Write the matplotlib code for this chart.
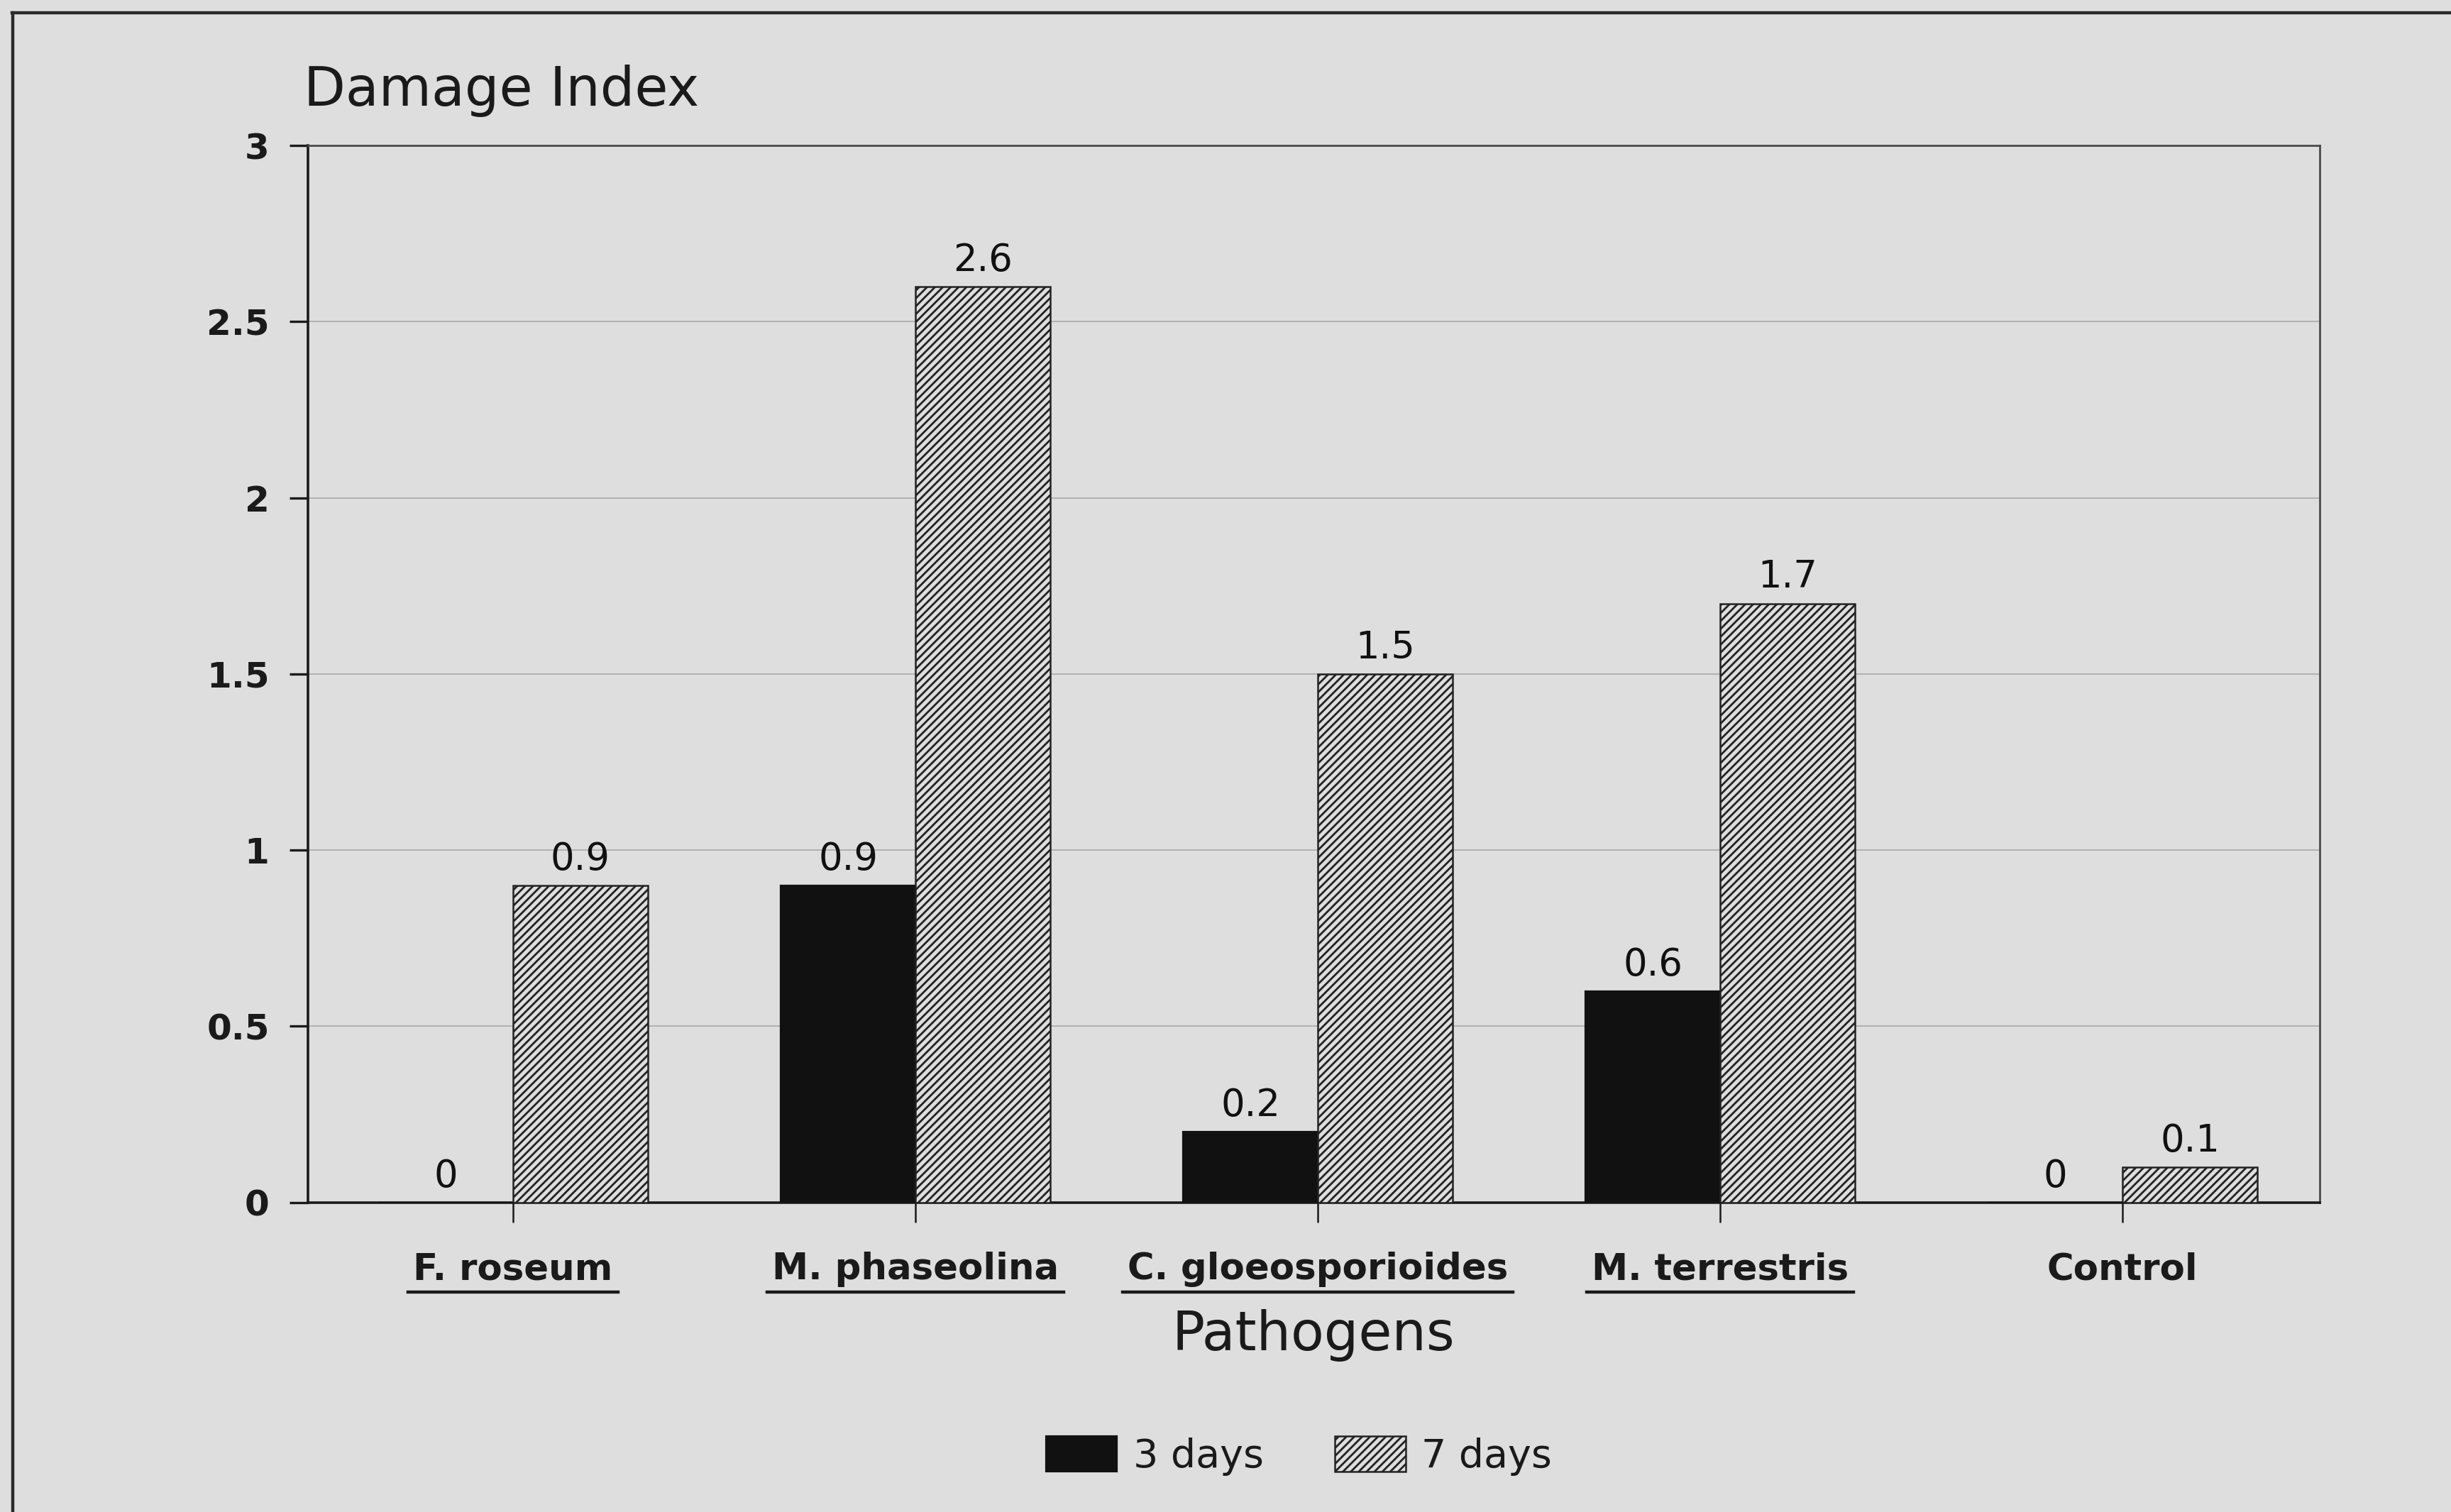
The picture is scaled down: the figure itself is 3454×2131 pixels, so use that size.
import matplotlib
matplotlib.use("Agg")
import matplotlib.pyplot as plt
from matplotlib.lines import Line2D
import numpy as np

# data
pathogens = ["F. roseum", "M. phaseolina", "C. gloeosporioides", "M. terrestris", "Control"]
underlined = [True, True, True, True, False]
days3 = [0, 0.9, 0.2, 0.6, 0]
days7 = [0.9, 2.6, 1.5, 1.7, 0.1]
yticks = [0, 0.5, 1, 1.5, 2, 2.5, 3]
ytick_labels = ["0", "0.5", "1", "1.5", "2", "2.5", "3"]

BG = "#dedede"
INK = "#1a1a1a"

plt.rcParams["font.family"] = ["DejaVu Sans"]
plt.rcParams["hatch.linewidth"] = 1.0

fig = plt.figure(figsize=(17.27, 10.655), dpi=200)
fig.patch.set_facecolor(BG)
ax = fig.add_axes([0.1256, 0.2047, 0.8208, 0.6991])
ax.set_facecolor(BG)

x = np.arange(len(pathogens))
w = 0.335
b3 = ax.bar(x - w / 2, days3, w, color="#111111", edgecolor="#111111", linewidth=0.8,
            label="3 days", zorder=3)
b7 = ax.bar(x + w / 2, days7, w, color=BG, edgecolor="#222222", linewidth=0.9,
            hatch="//////", label="7 days", zorder=3)
for bars in (b3, b7):
    ax.bar_label(bars, labels=[f"{v:g}" for v in bars.datavalues], padding=4,
                 fontsize=19, color="#111111")

ax.set_xlim(-0.51, 4.49)
ax.set_ylim(0, 3)
ax.set_yticks(yticks)
ax.set_yticklabels(ytick_labels, fontsize=18, fontweight="bold", color=INK)
ax.set_xticks(x)
ax.set_xticklabels(pathogens, fontsize=18.5, fontweight="bold", color=INK)
ax.tick_params(axis="y", length=9.5, width=1.2, pad=10, color=INK)
ax.tick_params(axis="x", length=10, width=0.9, pad=15, color=INK)

ax.grid(axis="y", color="#a8a8a8", linewidth=0.6, zorder=0)
ax.set_axisbelow(True)
for side in ("left", "bottom"):
    ax.spines[side].set_linewidth(1.3)
    ax.spines[side].set_color(INK)
for side in ("top", "right"):
    ax.spines[side].set_linewidth(1.0)
    ax.spines[side].set_color("#4a4a4a")

fig.text(0.124, 0.940, "Damage Index", fontsize=27.5, color=INK, ha="left", va="center")
fig.text(0.536, 0.117, "Pathogens", fontsize=27.5, color=INK, ha="center", va="center")

leg = fig.legend(handles=[b3, b7], loc="center", bbox_to_anchor=(0.53, 0.037), ncol=2,
                 frameon=False, fontsize=20, handlelength=1.8, handleheight=1.0,
                 handletextpad=0.4, columnspacing=1.8)
for t in leg.get_texts():
    t.set_color(INK)

# underline the species names
fig.canvas.draw()
renderer = fig.canvas.get_renderer()
inv = fig.transFigure.inverted()
for lab, flag in zip(ax.get_xticklabels(), underlined):
    if not flag:
        continue
    bb = lab.get_window_extent(renderer)
    (x0, y0), (x1, _) = inv.transform([(bb.x0, bb.y0), (bb.x1, bb.y1)])
    fig.add_artist(Line2D([x0 - 0.002, x1 + 0.002], [y0 - 0.003, y0 - 0.003],
                          transform=fig.transFigure, color=INK, linewidth=1.6))

# scanned page frame (top and left)
fig.add_artist(Line2D([0.005, 1.0], [0.9917, 0.9917], transform=fig.transFigure,
                      color="#2a2a2a", linewidth=1.6))
fig.add_artist(Line2D([0.0051, 0.0051], [0.0, 0.9917], transform=fig.transFigure,
                      color="#2a2a2a", linewidth=1.6))

fig.savefig("out.png", dpi=200, facecolor=BG)
